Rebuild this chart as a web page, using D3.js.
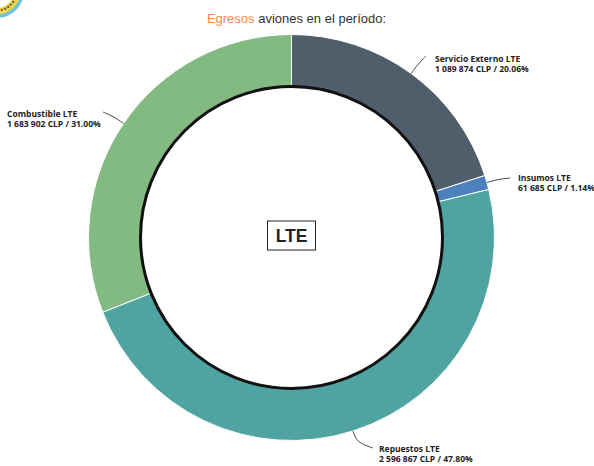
<!DOCTYPE html>
<html>
<head>
<meta charset="UTF-8">
<style>
html, body { margin: 0; padding: 0; background: #fff; }
svg { display: block; }
</style>
<script src="https://d3js.org/d3.v7.min.js"></script>
</head>
<body>
<svg id="chart" width="594" height="466"></svg>
<script>
// values
const categories = ["Servicio Externo LTE", "Insumos LTE", "Repuestos LTE", "Combustible LTE"];
const amounts = [1089874, 61685, 2596867, 1683902];
const amountLabels = ["1 089 874 CLP / 20.06%", "61 685 CLP / 1.14%", "2 596 867 CLP / 47.80%", "1 683 902 CLP / 31.00%"];
const colors = ["#505d6b", "#4d81bd", "#4fa3a1", "#83ba82"];

const width = 594, height = 466;
const cx = 291.5, cy = 237.5, outerR = 203, innerR = 151;

const svg = d3.select("#chart");

// clipped logo in the corner
const logo = svg.append("g");
logo.append("circle").attr("cx", -3).attr("cy", -9).attr("r", 27).attr("fill", "#6fbfe0");
logo.append("circle").attr("cx", -3).attr("cy", -9).attr("r", 23.5).attr("fill", "#efd548");
logo.append("circle").attr("cx", -3).attr("cy", -9).attr("r", 19.5)
  .attr("fill", "none").attr("stroke", "#5a5a3a").attr("stroke-width", 2).attr("stroke-dasharray", "2 1.5");
logo.append("circle").attr("cx", -3).attr("cy", -9).attr("r", 17).attr("fill", "#fff");

// subtitle
const sub = svg.append("text")
  .attr("x", 296.5).attr("y", 23)
  .attr("text-anchor", "middle")
  .attr("font-family", "Liberation Sans, Arial, sans-serif")
  .attr("font-size", "13px")
  .attr("fill", "#333");
sub.append("tspan").attr("fill", "#f58a4b").text("Egresos");
sub.append("tspan").text(" aviones en el período:");

const g = svg.append("g").attr("transform", `translate(${cx},${cy})`);

const pie = d3.pie().sort(null).value(d => d);
const arcs = pie(amounts);
const arc = d3.arc().innerRadius(innerR).outerRadius(outerR);

g.selectAll("path.slice")
  .data(arcs)
  .enter()
  .append("path")
  .attr("class", "slice")
  .attr("d", arc)
  .attr("fill", (d, i) => colors[i])
  .attr("stroke", "#fff")
  .attr("stroke-width", 1);

// black ring on the inner edge
g.append("circle")
  .attr("r", innerR)
  .attr("fill", "#fff")
  .attr("stroke", "#111")
  .attr("stroke-width", 3);

// leader lines run from the rim out to the label
const labelPos = [
  { x: 435, y: 62 },
  { x: 518, y: 181 },
  { x: 379, y: 452 },
  { x: 7, y: 117 }
];
const leaderEnds = [[426, 56], [510, 178], [373, 448], [103, 112]];

const line = d3.line().curve(d3.curveBasis);
arcs.forEach((d, i) => {
  const mid = (d.startAngle + d.endAngle) / 2;
  const rim = [cx + Math.sin(mid) * outerR, cy - Math.cos(mid) * outerR];
  const bend = [cx + Math.sin(mid) * (outerR + 12), cy - Math.cos(mid) * (outerR + 12)];
  svg.append("path")
    .attr("d", line([rim, rim, bend, leaderEnds[i], leaderEnds[i]]))
    .attr("fill", "none")
    .attr("stroke", "#444")
    .attr("stroke-width", 1);

  const t = svg.append("text")
    .attr("font-family", "Open Sans, DejaVu Sans, sans-serif")
    .attr("font-size", "8.5px")
    .attr("font-weight", "700")
    .attr("fill", "#222");
  t.append("tspan").attr("x", labelPos[i].x).attr("y", labelPos[i].y).text(categories[i]);
  t.append("tspan").attr("x", labelPos[i].x).attr("y", labelPos[i].y + 9.5).text(amountLabels[i]);
});

// centre box
g.append("rect")
  .attr("x", -24).attr("y", -16.5)
  .attr("width", 48).attr("height", 29)
  .attr("fill", "#fff")
  .attr("stroke", "#222")
  .attr("stroke-width", 1);
g.append("text")
  .attr("y", 4.5)
  .attr("text-anchor", "middle")
  .attr("font-family", "Liberation Sans, Arial, sans-serif")
  .attr("font-weight", "700")
  .attr("font-size", "17.5px")
  .attr("fill", "#222")
  .text("LTE");
</script>
</body>
</html>
